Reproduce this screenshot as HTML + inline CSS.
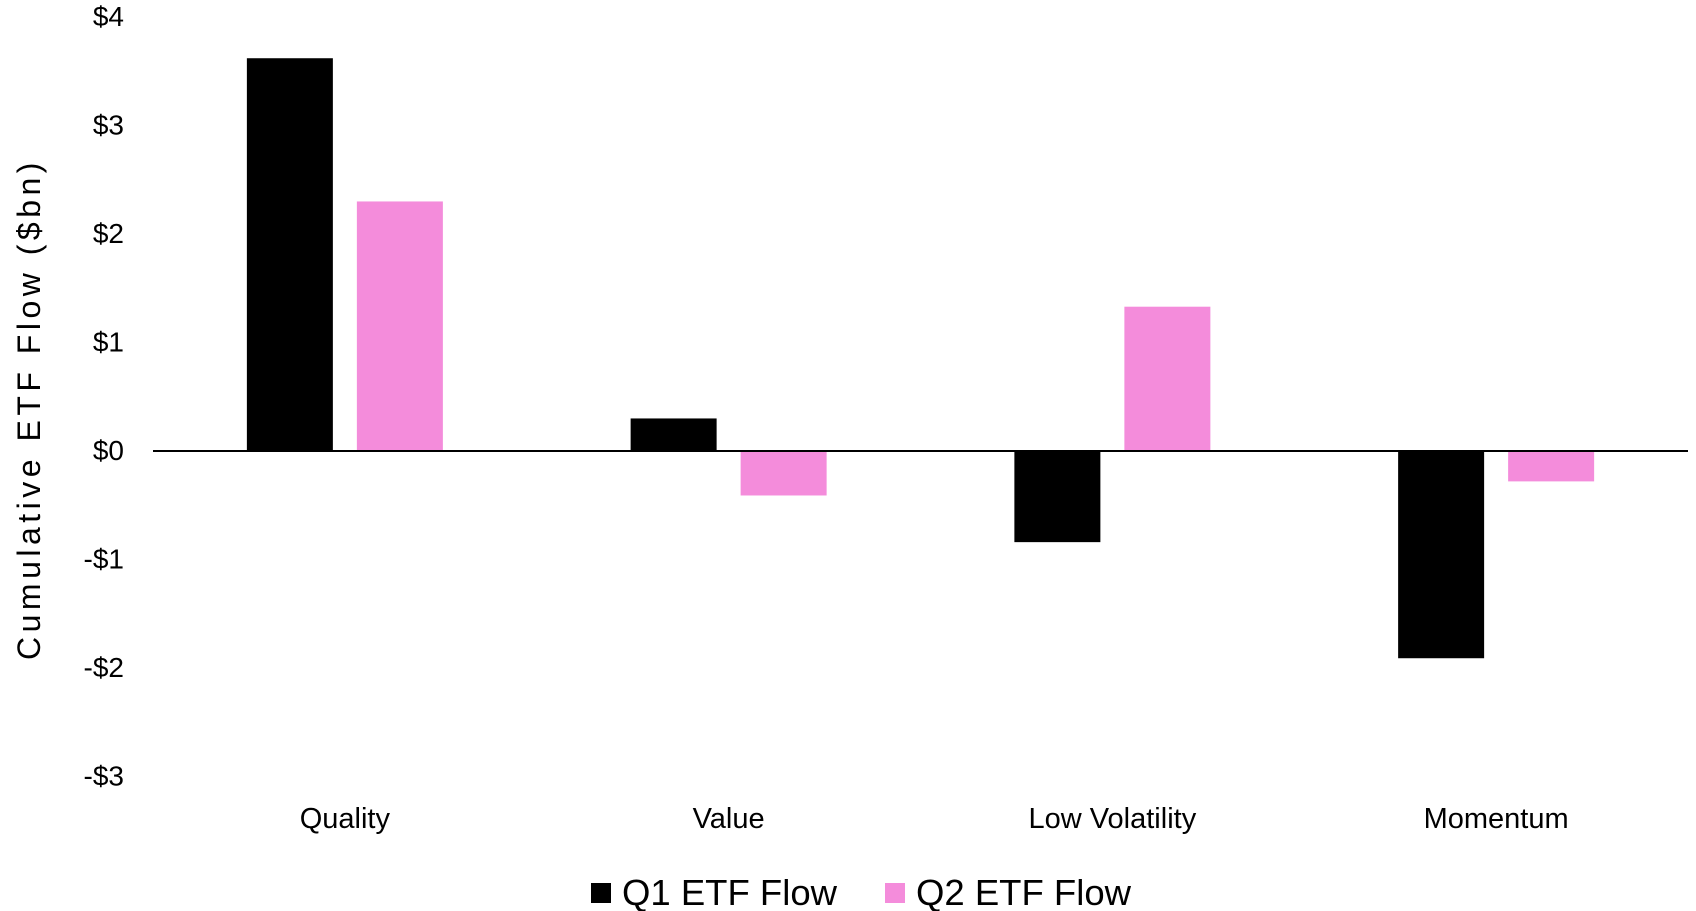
<!DOCTYPE html>
<html><head><meta charset="utf-8"><style>
html,body{margin:0;padding:0;background:#fff;}
svg{display:block;font-family:"Liberation Sans",sans-serif;}
</style></head><body>
<svg id="chart" width="1696" height="911"></svg>
<script>
const categories=["Quality","Value","Low Volatility","Momentum"];
const q1Values=[3.62,0.30,-0.84,-1.91];
const q2Values=[2.30,-0.41,1.33,-0.28];
const yTicks=[4,3,2,1,0,-1,-2,-3];
const tickLabels=["$4","$3","$2","$1","$0","-$1","-$2","-$3"];
const seriesNames=["Q1 ETF Flow","Q2 ETF Flow"];

const NS="http://www.w3.org/2000/svg";
const svg=document.getElementById('chart');
const x0=153,x1=1688,zeroY=451,unit=108.5;
const band=(x1-x0)/categories.length;
function yS(v){return zeroY-v*unit;}
function xC(i){return x0+band*(i+0.5);}
function mk(tag,attrs,text){const e=document.createElementNS(NS,tag);for(const k in attrs)e.setAttribute(k,attrs[k]);if(text!==undefined)e.textContent=text;svg.appendChild(e);return e;}

yTicks.forEach((t,i)=>{
  const e=mk('text',{x:124,y:yS(t)+9,'text-anchor':'end','font-size':28,fill:'#000'},tickLabels[i]);
  
  
});
const yt=mk('text',{x:0,y:0,transform:'translate(40,409) rotate(-90)','text-anchor':'middle','font-size':32,'letter-spacing':'4.5',fill:'#000'},'Cumulative  ETF  Flow  ($bn)');



const bw=86,gap=24;
categories.forEach((c,i)=>{
  const cx=xC(i);
  [[q1Values,'#000',-gap/2-bw],[q2Values,'#f48cdb',gap/2]].forEach(([arr,col,off],s)=>{
    const v=arr[i];const top=Math.min(yS(v),zeroY);const h=Math.abs(yS(v)-zeroY);
    const r=mk('rect',{x:cx+off,y:top,width:bw,height:h,fill:col});
    
    
  });
  const l=mk('text',{x:cx,y:828,'text-anchor':'middle','font-size':29,fill:'#000'},c);
  
  
});
const ax=mk('line',{x1:x0,x2:x1,y1:zeroY,y2:zeroY,stroke:'#000','stroke-width':2});



const lx=[591,885],cols=['#000','#f48cdb'];
seriesNames.forEach((n,i)=>{
  const s=mk('rect',{x:lx[i],y:883,width:20,height:20,fill:cols[i]});
  
  
  const t=mk('text',{x:lx[i]+31,y:905,'font-size':36.5,fill:'#000'},n);
  
  
});
</script>
</body></html>
